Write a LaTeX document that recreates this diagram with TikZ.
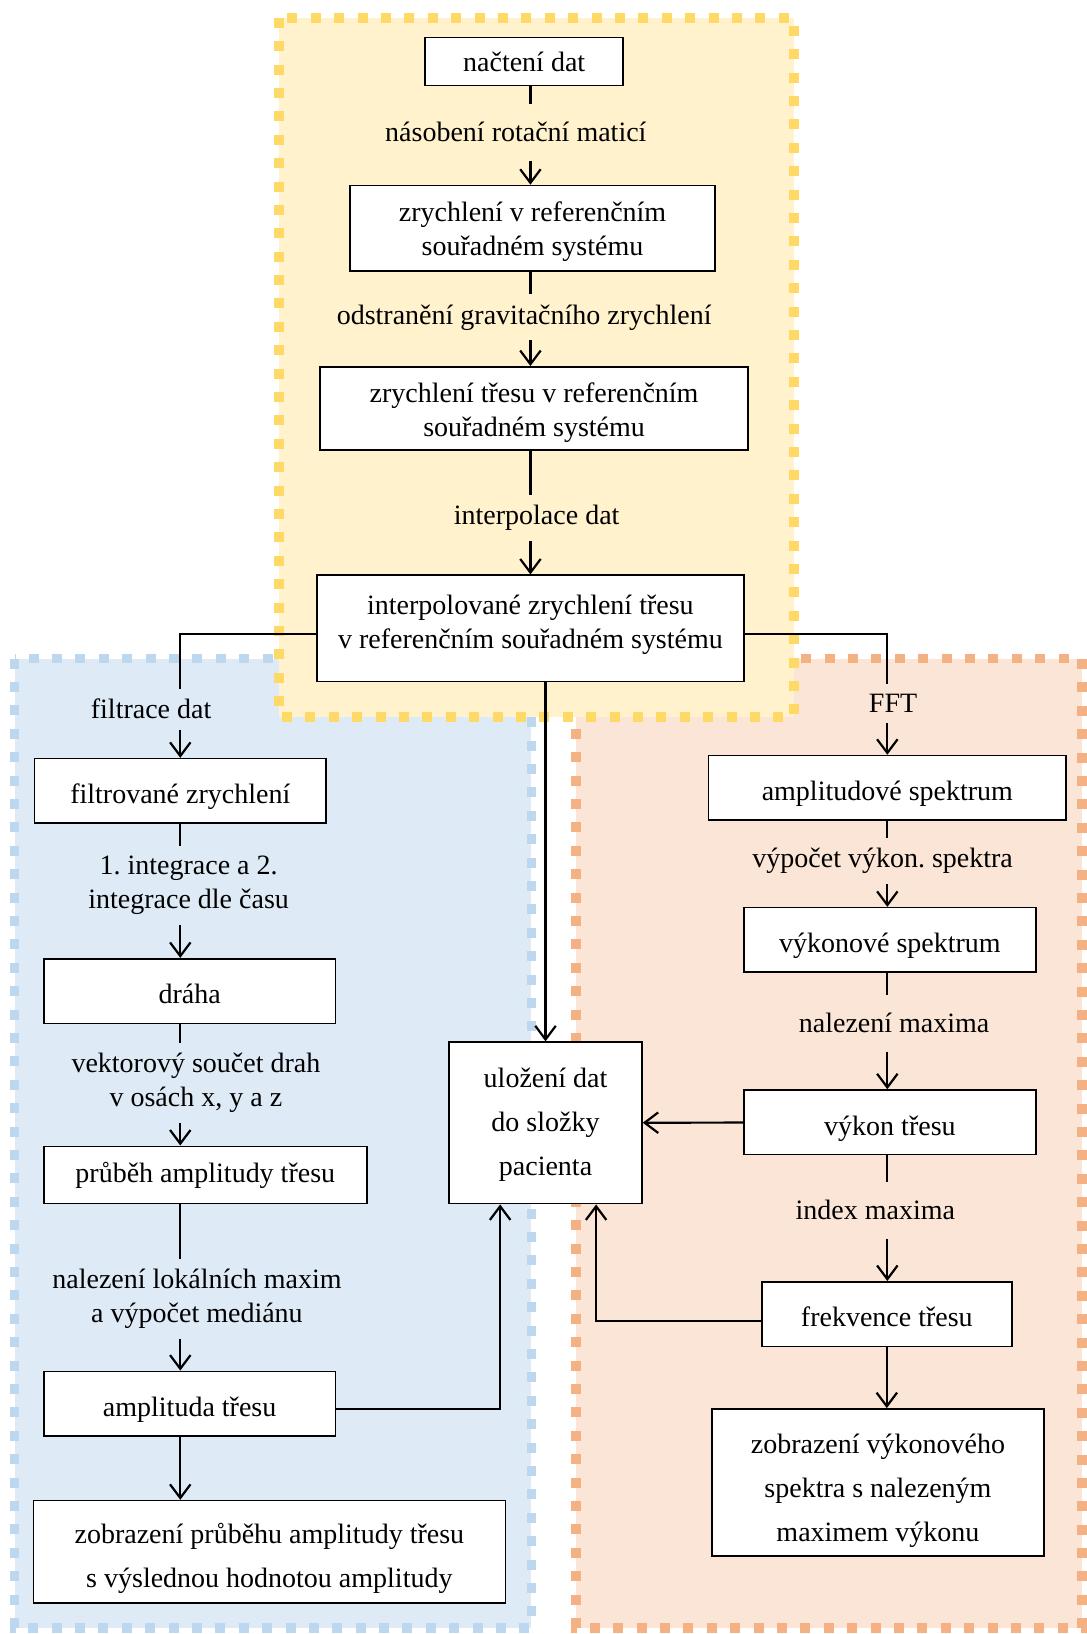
\documentclass[tikz,border=0pt]{standalone}
\usepackage{fontspec}
\setmainfont{Liberation Serif}
\usepackage{xcolor}
\usetikzlibrary{arrows.meta, calc}

\definecolor{yelfill}{HTML}{FFF2CC}
\definecolor{yeldash}{HTML}{FFD966}
\definecolor{bluefill}{HTML}{DEEBF7}
\definecolor{bluedash}{HTML}{BDD7EE}
\definecolor{orfill}{HTML}{FBE5D6}
\definecolor{ordash}{HTML}{F4B183}

% strut that pushes the first line of a box down a little
\newcommand{\topgap}[1]{\rule{0pt}{#1}}

\begin{document}
\frenchspacing
\begin{tikzpicture}[
    x=0.5211pt, y=-0.5211pt,
    box/.style={draw, line width=0.8pt, fill=white, align=center, inner sep=2pt, font=\fontsize{14}{17}\selectfont},
    one/.style={box, text height=12.8pt, text depth=0pt},
    wide/.style={box, font=\fontsize{14}{22}\selectfont},
    wh/.style 2 args={minimum width=#1*0.5211pt, minimum height=#2*0.5211pt},
    lbl/.style={align=center, inner xsep=0pt, inner ysep=5pt, font=\fontsize{14}{17}\selectfont},
    farlbl/.style={lbl, inner ysep=9pt},
    link/.style={line width=1.1pt},
    arr/.style={link, -{Straight Barb[length=2.4mm, width=3.6mm]}},
    zone/.style={line width=4.8pt, dash pattern=on 5pt off 6.7pt}
]
\useasboundingbox (0,0) rectangle (1043,1568);
% Coloured zones: amplitude (left), spectrum (right), preprocessing on top
\draw[zone, fill=bluefill, draw=bluedash] (14,632) rectangle (510,1562);
\draw[zone, fill=orfill, draw=ordash] (553,632) rectangle (1038,1562);
\draw[zone, fill=yelfill, draw=yeldash] (268,17) rectangle (762,688);

% Preprocessing column
\node[box, wh={190}{46}] (nacteni) at (503,59) {načtení dat};
\node[farlbl] (rotace) at (495,127) {násobení rotační maticí};
\node[box, wh={350}{82}] (refsys) at (511,219) {\topgap{13.2pt}zrychlení v referenčním\\souřadném systému};
\node[lbl] (gravit) at (503,304.5) {odstranění gravitačního zrychlení};
\node[box, wh={411}{80}] (tremref) at (512.5,392) {\topgap{14.3pt}zrychlení třesu v referenčním\\souřadném systému};
\node[lbl] (interpl) at (515,497) {interpolace dat};
\node[box, wh={410}{102}] (interp) at (509,603) {interpolované zrychlení třesu\\v referenčním souřadném systému\rule[-6.6pt]{0pt}{6.6pt}};

\draw[link] (nacteni.south -| interp) -- (rotace.north -| interp);
\draw[arr] (rotace.south -| interp) -- (refsys.north -| interp);
\draw[link] (refsys.south -| interp) -- (gravit.north -| interp);
\draw[arr] (gravit.south -| interp) -- (tremref.north -| interp);
\draw[link] (tremref.south -| interp) -- (interpl.north -| interp);
\draw[arr] (interpl.south -| interp) -- (interp);

% Amplitude branch on the left
\node[lbl] (filtrace) at (145,680.5) {filtrace dat};
\node[one, wh={280}{62}] (filtr) at (173,759) {filtrované zrychlení};
\node[lbl] (integ) at (181,849.5) {1. integrace a 2.\\integrace dle času};
\node[one, wh={280}{62}] (draha) at (182,951) {dráha};
\node[lbl] (soucet) at (188,1039) {vektorový součet drah\\v osách x, y a z};
\node[box, wh={310}{55}] (prubeh) at (197,1127.5) {průběh amplitudy třesu};
\node[lbl] (maxima) at (189,1246.5) {nalezení lokálních maxim\\a výpočet mediánu};
\node[one, wh={280}{62}] (amplit) at (182,1347) {amplituda třesu};
\node[wide, wh={453}{98}] (zobramp) at (258.5,1489) {\topgap{17pt}zobrazení průběhu amplitudy třesu\\s výslednou hodnotou amplitudy};

\draw[link] ([yshift=-3pt]interp.west) -| (filtrace.north -| filtr);
\draw[arr] (filtrace.south -| filtr) -- (filtr);
\draw[link] (filtr.south) -- (integ.north -| filtr);
\draw[arr] (integ.south -| filtr) -- (draha.north -| filtr);
\draw[link] (draha.south -| filtr) -- (soucet.north -| filtr);
\draw[arr] (soucet.south -| filtr) -- (prubeh.north -| filtr);
\draw[link] (prubeh.south -| filtr) -- (maxima.north -| filtr);
\draw[arr] (maxima.south -| filtr) -- (amplit.north -| filtr);
\draw[arr] (amplit.south -| filtr) -- (zobramp.north -| filtr);

% Storage in the middle
\node[wide, wh={185}{155}] (ulozeni) at (523.5,1077.5) {\topgap{11.6pt}uložení dat\\do složky\\pacienta};
\draw[arr] (interp.south -| ulozeni) -- (ulozeni);
\draw[arr] ([yshift=-2.5pt]amplit.east) -| ([xshift=-22.7pt]ulozeni.south);

% Spectrum branch on the right
\node[lbl] (fft) at (857,675) {FFT};
\node[one, wh={343}{62}] (ampspek) at (851.5,756) {amplitudové spektrum};
\node[lbl] (vypocet) at (847,826) {výpočet výkon. spektra};
\node[one, wh={280}{62}] (vykspek) at (854,902) {výkonové spektrum};
\node[farlbl] (nalmax) at (858,982) {nalezení maxima};
\node[one, wh={280}{62}] (vykon) at (854,1077) {výkon třesu};
\node[farlbl] (index) at (840,1161.5) {index maxima};
\node[one, wh={240}{62}] (frekv) at (851,1261) {frekvence třesu};
\node[wide, wh={319}{141}] (zobrspek) at (842.5,1422.5) {\topgap{18pt}zobrazení výkonového\\spektra s nalezeným\\maximem výkonu};

\draw[link] ([yshift=-3pt]interp.east) -| (fft.north -| ampspek);
\draw[arr] (fft.south -| ampspek) -- (ampspek);
\draw[link] (ampspek.south) -- (vypocet.north -| ampspek);
\draw[arr] (vypocet.south -| ampspek) -- (vykspek.north -| ampspek);
\draw[link] (vykspek.south -| ampspek) -- (nalmax.north -| ampspek);
\draw[arr] (nalmax.south -| ampspek) -- (vykon.north -| ampspek);
\draw[link] (vykon.south -| ampspek) -- (index.north -| ampspek);
\draw[arr] (index.south -| ampspek) -- (frekv.north -| ampspek);
\draw[arr] (frekv.south) -- (zobrspek.north -| frekv);
\draw[arr] (vykon) -- (ulozeni);
\draw[arr] ([yshift=-3.6pt]frekv.west) -| ([xshift=25.3pt]ulozeni.south);
\end{tikzpicture}
\end{document}
